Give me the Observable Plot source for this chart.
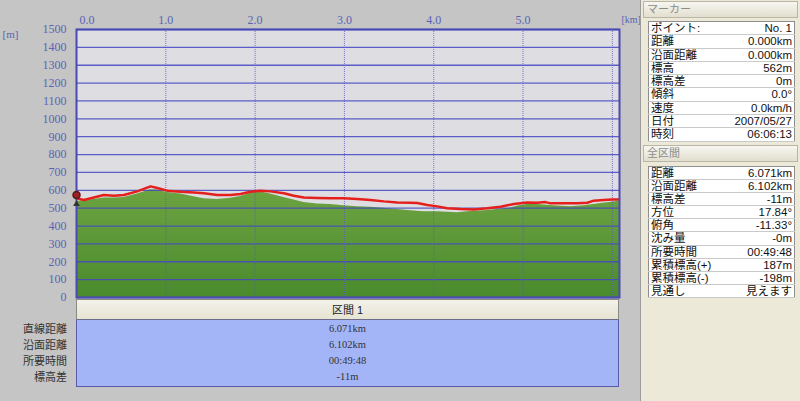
<!DOCTYPE html>
<html><head><meta charset="utf-8">
<script src="https://cdn.jsdelivr.net/npm/d3@7"></script>
<script src="https://cdn.jsdelivr.net/npm/@observablehq/plot@0.6"></script>
<style>
html,body{margin:0;padding:0;}
body{width:800px;height:401px;overflow:hidden;background:#c5c5c5;font-family:"Liberation Sans","Noto Sans CJK JP",sans-serif;}
#root{position:relative;width:800px;height:401px;}
#chart{position:absolute;left:0;top:0;}
#sec{position:absolute;left:76px;top:299px;width:543px;}
#secHead{height:21px;background:linear-gradient(#f3f2ea,#e6e3d3);border:1px solid #8a8a80;border-bottom:1px solid #6c6c8c;box-sizing:border-box;text-align:center;font-size:11px;line-height:20px;color:#222;}
#secBody{background:#a3b5f6;border:1px solid #5a5aa8;border-top:none;height:67px;box-sizing:border-box;padding-top:1px;}
#secBody div{height:16px;line-height:16px;text-align:center;font-size:10.5px;color:#333;font-family:"Liberation Serif","Noto Sans CJK JP",serif;}
#secLabels{position:absolute;left:0;top:321px;width:67px;text-align:right;}
#secLabels div{height:16px;line-height:16px;font-size:11px;color:#333;}
#panel{position:absolute;left:640px;top:0;width:160px;height:401px;background:#ece9d8;border-left:1px solid #9c9c9c;box-sizing:border-box;}
.ph{position:absolute;left:2px;width:155px;height:17px;box-sizing:border-box;border:1px solid #b9b6a6;background:linear-gradient(#f7f6f1,#e2dfcf);font-size:11px;line-height:15px;color:#8c8c8c;padding-left:3px;}
table.pt{position:absolute;left:7px;width:147px;border-collapse:collapse;background:#fff;border:1px solid #8e8e8e;font-size:11.5px;color:#111;}
table.pt td{padding:0 2px;border-bottom:1px solid #c9c9c9;white-space:nowrap;}
table.pt td.v{text-align:right;}
</style></head>
<body><div id="root">
<div id="chart"></div>
<div id="secLabels"></div>
<div id="sec"><div id="secHead"></div><div id="secBody"></div></div>
<div id="panel">
  <div class="ph" id="h1" style="top:1px"></div>
  <table class="pt" id="t1" style="top:21px"></table>
  <div class="ph" id="h2" style="top:145px"></div>
  <table class="pt" id="t2" style="top:166px"></table>
</div>
</div>
<script>
// ---- data ----
const kmTicks = [0, 1, 2, 3, 4, 5, 6];
const kmTickLabels = ["0.0", "1.0", "2.0", "3.0", "4.0", "5.0"];
const elevTicks = [0, 100, 200, 300, 400, 500, 600, 700, 800, 900, 1000, 1100, 1200, 1300, 1400, 1500];

const trackKm = [0.000, 0.082, 0.194, 0.306, 0.418, 0.530, 0.680, 0.829, 0.904, 1.016, 1.165, 1.314, 1.426, 1.576, 1.725, 1.837, 1.949, 2.060, 2.172, 2.321, 2.433, 2.545, 2.695, 2.844, 2.993, 3.143, 3.292, 3.441, 3.591, 3.740, 3.815, 3.927, 4.039, 4.151, 4.300, 4.449, 4.599, 4.748, 4.897, 5.047, 5.159, 5.252, 5.308, 5.457, 5.607, 5.719, 5.793, 5.905, 5.999, 6.071];
const trackElev = [556, 546, 560, 574, 570, 574, 594, 622, 613, 598, 592, 588, 583, 574, 574, 579, 592, 598, 594, 583, 570, 560, 557, 555, 555, 551, 546, 538, 532, 530, 529, 518, 510, 499, 495, 493, 499, 508, 523, 532, 530, 534, 527, 527, 527, 530, 542, 546, 549, 549];

const terrainKm = [0.000, 0.082, 0.194, 0.306, 0.418, 0.530, 0.680, 0.829, 0.904, 1.016, 1.165, 1.314, 1.426, 1.576, 1.725, 1.837, 1.949, 2.010, 2.060, 2.172, 2.321, 2.433, 2.545, 2.695, 2.844, 2.993, 3.143, 3.292, 3.441, 3.591, 3.740, 3.890, 4.039, 4.151, 4.263, 4.412, 4.561, 4.711, 4.860, 4.954, 5.085, 5.235, 5.384, 5.533, 5.682, 5.831, 5.943, 6.055, 6.080];
const terrainElev = [538, 542, 549, 557, 557, 560, 579, 603, 602, 588, 579, 564, 553, 549, 555, 566, 583, 592, 590, 579, 560, 546, 532, 523, 520, 514, 508, 505, 499, 492, 486, 480, 480, 477, 475, 481, 486, 492, 501, 514, 523, 518, 512, 508, 514, 523, 530, 538, 542];

const markerKm = [0];
const markerElev = [562];

const sectionTitle = "区間 1";
const sectionLabels = ["直線距離", "沿面距離", "所要時間", "標高差"];
const sectionValues = ["6.071km", "6.102km", "00:49:48", "-11m"];

const markerTitle = "マーカー";
const markerLabels = ["ポイント:", "距離", "沿面距離", "標高", "標高差", "傾斜", "速度", "日付", "時刻"];
const markerValues = ["No. 1", "0.000km", "0.000km", "562m", "0m", "0.0°", "0.0km/h", "2007/05/27", "06:06:13"];

const totalTitle = "全区間";
const totalLabels = ["距離", "沿面距離", "標高差", "方位", "俯角", "沈み量", "所要時間", "累積標高(+)", "累積標高(-)", "見通し"];
const totalValues = ["6.071km", "6.102km", "-11m", "17.84°", "-11.33°", "-0m", "00:49:48", "187m", "-198m", "見えます"];

// ---- build tables ----
const track = trackKm.map((k, i) => ({km: k, elev: trackElev[i]}));
const terrain = terrainKm.map((k, i) => ({km: k, elev: terrainElev[i]}));
const marker = markerKm.map((k, i) => ({km: k, elev: markerElev[i]}));
const xLabels = kmTickLabels.map((t, i) => ({km: kmTicks[i], label: t}));

const tickColor = "#5a64b4";
const tickFont = "'Liberation Serif', serif";

const plot = Plot.plot({
  width: 640,
  height: 300,
  marginLeft: 76,
  marginRight: 21,
  marginTop: 29,
  marginBottom: 3,
  style: {background: "transparent", overflow: "visible", fontSize: "12px"},
  x: {domain: [0, 6.08], axis: null},
  y: {domain: [0, 1500], axis: null},
  marks: [
    Plot.frame({fill: "#dddde2", stroke: "none"}),
    Plot.areaY(terrain, {x: "km", y: "elev", fill: "url(#terrainGrad)"}),
    Plot.ruleY(elevTicks, {stroke: "#4646c4", strokeOpacity: 0.85, strokeWidth: 1.3}),
    Plot.ruleX(kmTicks, {stroke: "#5a5ac4", strokeOpacity: 0.8, strokeDasharray: "1,1"}),
    Plot.line(track, {x: "km", y: "elev", stroke: "#e5201c", strokeWidth: 2.5}),
    Plot.frame({stroke: "#4a4ab4", strokeWidth: 2}),
    Plot.dot(marker, {x: "km", y: "elev", r: 3.5, fill: "#9a2424", stroke: "#5a1a1a", dy: -2}),
    Plot.dot(marker, {x: "km", y: "elev", r: 2.5, symbol: "triangle", fill: "#333", dy: 7}),
    Plot.text(elevTicks, {y: d => d, text: d => String(d), frameAnchor: "left", dx: -10, textAnchor: "end", fill: tickColor, fontFamily: tickFont, fontSize: 12}),
    Plot.text(xLabels.filter(d => d.km > 0), {x: "km", text: "label", frameAnchor: "top", dy: -14, textAnchor: "middle", fill: tickColor, fontFamily: tickFont, fontSize: 12}),
    Plot.text(xLabels.filter(d => d.km === 0), {x: "km", text: "label", frameAnchor: "top", dy: -14, dx: 3, textAnchor: "start", fill: tickColor, fontFamily: tickFont, fontSize: 12}),
    Plot.text(["[m]"], {text: d => d, frameAnchor: "top-left", dx: -66, dy: 1, textAnchor: "middle", fill: tickColor, fontFamily: tickFont, fontSize: 11}),
    Plot.text(["[km]"], {text: d => d, frameAnchor: "top-right", dx: 2, dy: -14, textAnchor: "start", fill: tickColor, fontFamily: tickFont, fontSize: 10})
  ]
});

// gradient defs
const ns = "http://www.w3.org/2000/svg";
const defs = document.createElementNS(ns, "defs");
defs.innerHTML = '<linearGradient id="terrainGrad" x1="0" y1="0" x2="0" y2="1">' +
  '<stop offset="0" stop-color="#6da341"/><stop offset="1" stop-color="#4a8b2d"/></linearGradient>';
plot.insertBefore(defs, plot.firstChild);
document.getElementById("chart").appendChild(plot);

// section table
document.getElementById("secHead").textContent = sectionTitle;
const sb = document.getElementById("secBody");
sectionValues.forEach(v => { const d = document.createElement("div"); d.textContent = v; sb.appendChild(d); });
const sl = document.getElementById("secLabels");
sectionLabels.forEach(v => { const d = document.createElement("div"); d.textContent = v; sl.appendChild(d); });

// right panel
function fill(tableId, labels, values, rowH) {
  const t = document.getElementById(tableId);
  labels.forEach((l, i) => {
    const tr = document.createElement("tr");
    tr.style.height = rowH + "px";
    const a = document.createElement("td"); a.textContent = l;
    const b = document.createElement("td"); b.textContent = values[i]; b.className = "v";
    a.style.lineHeight = b.style.lineHeight = (rowH - 1) + "px";
    tr.appendChild(a); tr.appendChild(b); t.appendChild(tr);
  });
}
document.getElementById("h1").textContent = markerTitle;
document.getElementById("h2").textContent = totalTitle;
fill("t1", markerLabels, markerValues, 13.3);
fill("t2", totalLabels, totalValues, 13.1);
</script>
</body></html>
